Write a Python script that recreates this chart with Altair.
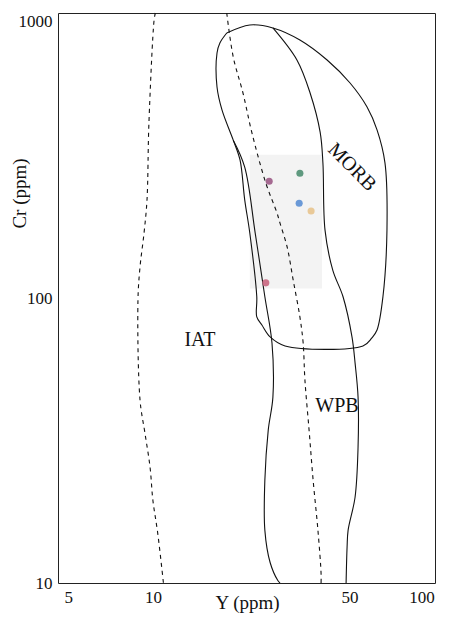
import altair as alt
import pandas as pd

# ---- field outlines, Y (ppm) vs Cr (ppm) ----
MORB_Y = [18.3, 22.1, 26.7, 33.3, 41.6, 50.2, 57.7, 62.6, 66.8, 67.9,
          65.7, 62.6, 60.0, 55.8, 29.5, 26.1, 24.4, 23.4, 23.4, 22.1,
          21.2, 20.4, 19.3, 17.6, 16.9, 16.9, 17.3, 18.3]
MORB_CR = [851, 908, 886, 804, 684, 568, 468, 389, 298, 173,
           101, 77.2, 72.4, 67.9, 67.9, 73.0, 80.4, 85.8, 101, 169,
           221, 305, 358, 457, 550, 724, 785, 851]

WPB_LEFT_Y = [19.3, 21.2, 23.1, 25.0, 26.5, 26.7, 25.7, 25.0, 25.0, 26.1, 27.8, 28.3]
WPB_LEFT_CR = [358, 288, 169, 101, 69.5, 44.9, 34.4, 23.0, 15.3, 11.8, 10.2, 10]

WPB_RIGHT_Y = [26.7, 32.5, 36.2, 39.3, 40.2, 40.9, 43.6, 47.4, 51.0, 52.3,
               53.6, 53.6, 52.3, 49.4, 49.0, 48.6]
WPB_RIGHT_CR = [886, 684, 524, 382, 298, 173, 125, 101, 73.0, 59.2,
                44.9, 30.0, 20.0, 15.3, 13.4, 10]

DASH1_Y = [10.2, 10.1, 9.68, 9.53, 9.30, 9.0, 8.85, 9.0, 9.37, 9.77, 10.0, 10.4, 10.9]
DASH1_CR = [1000, 945, 411, 221, 169, 128.5, 98.4, 43.9, 33.6, 25.5, 19.5, 15.0, 10]

DASH2_Y = [18.3, 19.3, 20.9, 22.5, 25.2, 27.6, 28.3, 30.0, 31.5, 33.3,
           34.2, 34.7, 35.9, 37.1, 38.6, 39.6, 39.6]
DASH2_CR = [1000, 701, 524, 379, 253, 199, 183, 151, 116, 85.8,
            69.5, 51.5, 34.4, 23.0, 15.3, 10.8, 10]

# ---- samples ----
SAMPLE_NAMES = ["s1", "s2", "s3", "s4", "s5"]
SAMPLE_Y = [25.9, 33.3, 33.1, 36.5, 25.2]
SAMPLE_CR = [257, 274, 215, 202, 113]
SAMPLE_COLORS = ["#9c5a86", "#4f8f72", "#5b8fd4", "#e8c48e", "#c9667f"]

# faint inset background behind the samples
INSET_Y = [22.1, 39.9]
INSET_CR = [108, 318]

# field labels
LABELS = ["IAT", "WPB", "MORB"]
LABEL_Y = [14.7, 45.1, 51.0]
LABEL_CR = [71.2, 41.8, 288]
LABEL_ANGLE = [0, 0, 45]

X_TICKS = [5, 10, 50, 100]
Y_TICKS = [10, 100, 1000]

FONT = "Liberation Serif"


def frame(name, xs, ys):
    return pd.DataFrame({"curve": name, "yppm": xs, "cr": ys, "i": list(range(len(xs)))})


solid = pd.concat([
    frame("MORB", MORB_Y, MORB_CR),
    frame("WPB_L", WPB_LEFT_Y, WPB_LEFT_CR),
    frame("WPB_R", WPB_RIGHT_Y, WPB_RIGHT_CR),
])
dashed = pd.concat([
    frame("D1", DASH1_Y, DASH1_CR),
    frame("D2", DASH2_Y, DASH2_CR),
])
samples = pd.DataFrame({"name": SAMPLE_NAMES, "yppm": SAMPLE_Y, "cr": SAMPLE_CR})
inset = pd.DataFrame({"x1": [INSET_Y[0]], "x2": [INSET_Y[1]], "y1": [INSET_CR[0]], "y2": [INSET_CR[1]]})
labels = pd.DataFrame({"t": LABELS, "yppm": LABEL_Y, "cr": LABEL_CR, "a": LABEL_ANGLE})

xscale = alt.Scale(type="log", domain=[4.6, 100.6], nice=False)
yscale = alt.Scale(type="log", domain=[10, 1000], nice=False)

xaxis = alt.Axis(values=X_TICKS, format="d", title="Y (ppm)", grid=False, ticks=False,
                 tickSize=0, domain=False, labelFont=FONT, labelFontSize=17, labelColor="#111",
                 labelPadding=6, titleFont=FONT, titleFontSize=19, titleFontWeight="normal",
                 titleColor="#111", titleX=189, titleY=29, titleBaseline="bottom")
yaxis = alt.Axis(values=Y_TICKS, format="d", title="Cr (ppm)", grid=False, ticks=False,
                 tickSize=0, domain=False, labelFont=FONT, labelFontSize=17, labelColor="#111",
                 labelPadding=6,
                 labelBaseline={"condition": {"test": "datum.value >= 1000", "value": "top"},
                                "value": "middle"},
                 titleFont=FONT, titleFontSize=19, titleFontWeight="normal",
                 titleColor="#111", titleX=-39, titleY=180, titleAlign="center",
                 titleBaseline="middle")

rect = alt.Chart(inset).mark_rect(color="#f3f3f3").encode(
    x=alt.X("x1:Q", scale=xscale, axis=xaxis),
    x2="x2:Q",
    y=alt.Y("y1:Q", scale=yscale, axis=yaxis),
    y2="y2:Q",
)

solid_lines = alt.Chart(solid).mark_line(color="#111", strokeWidth=1.1, interpolate="catmull-rom").encode(
    x=alt.X("yppm:Q", scale=xscale, axis=xaxis),
    y=alt.Y("cr:Q", scale=yscale, axis=yaxis),
    detail="curve:N",
    order="i:Q",
)

dashed_lines = alt.Chart(dashed).mark_line(color="#111", strokeWidth=1.1, strokeDash=[4, 4],
                                           interpolate="catmull-rom").encode(
    x=alt.X("yppm:Q", scale=xscale, axis=xaxis),
    y=alt.Y("cr:Q", scale=yscale, axis=yaxis),
    detail="curve:N",
    order="i:Q",
)

points = alt.Chart(samples).mark_circle(size=50, opacity=0.9).encode(
    x=alt.X("yppm:Q", scale=xscale, axis=xaxis),
    y=alt.Y("cr:Q", scale=yscale, axis=yaxis),
    color=alt.Color("name:N", scale=alt.Scale(domain=SAMPLE_NAMES, range=SAMPLE_COLORS), legend=None),
)

text = alt.Chart(labels).mark_text(font=FONT, fontSize=20, color="#111", align="center",
                                   baseline="middle").encode(
    x=alt.X("yppm:Q", scale=xscale, axis=xaxis),
    y=alt.Y("cr:Q", scale=yscale, axis=yaxis),
    text="t:N",
    angle=alt.Angle("a:Q", scale=None),
)

chart = alt.layer(rect, solid_lines, dashed_lines, points, text).properties(
    width=377,
    height=570,
    padding={"left": 50, "top": 5, "right": 10, "bottom": 30},
    autosize=alt.AutoSizeParams(type="none"),
    background="white",
).configure_view(stroke="#222", strokeWidth=1)

chart.save("out.html", embed_options={"renderer": "svg", "actions": False})
